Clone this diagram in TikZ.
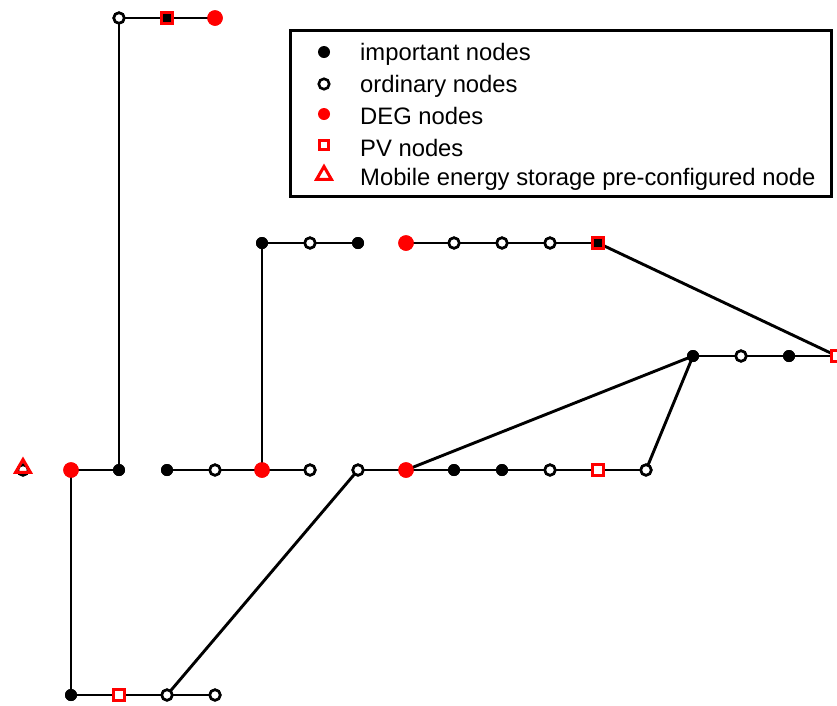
\documentclass[tikz,border=0pt]{standalone}
\usepackage{fontspec}
\setmainfont{Liberation Sans}
\usetikzlibrary{shapes.geometric}
\begin{document}
\begin{tikzpicture}[x=1pt,y=-1pt,
  imp/.style={circle,fill=black,inner sep=0pt,minimum size=12pt},
  ord/.style={circle,draw=black,fill=white,line width=2.6pt,inner sep=0pt,minimum size=10.5pt},
  deg/.style={circle,fill=red,inner sep=0pt,minimum size=15.5pt},
  pvimp/.style={rectangle,draw=red,fill=black,line width=3pt,inner sep=0pt,minimum size=11pt},
  pvord/.style={rectangle,draw=red,fill=white,line width=3pt,inner sep=0pt,minimum size=11pt},
  mes/.style={regular polygon,regular polygon sides=3,draw=red,line width=3pt,inner sep=0pt,minimum size=17pt},
  br/.style={line width=2.9pt,black},
  lg/.style={anchor=west,font=\fontsize{23.8}{27}\selectfont,inner sep=0pt}
]
\useasboundingbox (0,0) rectangle (837,705);
% top row
\node[ord] (t1) at (119,18) {};
\node[pvimp] (t2) at (167,18) {};
\node[deg] (t3) at (215,18) {};
% row 243
\node[imp] (a1) at (262,243) {};
\node[ord] (a2) at (310,243) {};
\node[imp] (a3) at (358,243) {};
\node[deg] (b1) at (406,243) {};
\node[ord] (b2) at (454,243) {};
\node[ord] (b3) at (502,243) {};
\node[ord] (b4) at (550,243) {};
\node[pvimp] (b5) at (598,243) {};
% row 356
\node[imp] (c1) at (693,356) {};
\node[ord] (c2) at (741,356) {};
\node[imp] (c3) at (789,356) {};
\node[ord] (c4o) at (837,356) {};
\node[pvord] (c4) at (837,356) {};
% row 470
\node[ord] (m0o) at (23,470) {};
\node[deg] (m1) at (71,470) {};
\node[imp] (m2) at (119,470) {};
\node[imp] (m3) at (167,470) {};
\node[ord] (m4) at (215,470) {};
\node[deg] (m5) at (262,470) {};
\node[ord] (m6) at (310,470) {};
\node[ord] (m7) at (358,470) {};
\node[deg] (m8) at (406,470) {};
\node[imp] (m9) at (454,470) {};
\node[imp] (m10) at (502,470) {};
\node[ord] (m11) at (550,470) {};
\node[ord] (m12o) at (598,470) {};
\node[pvord] (m12) at (598,470) {};
\node[ord] (m13) at (646,470) {};
% bottom row
\node[imp] (d1) at (71,695) {};
\node[ord] (d2o) at (119,695) {};
\node[pvord] (d2) at (119,695) {};
\node[ord] (d3) at (167,695) {};
\node[ord] (d4) at (215,695) {};
% branches
\path[br,draw] (t1.center) -- (t3.center);
\path[br,draw] (t1.center) -- (m2.center);
\path[br,draw] (a1.center) -- (a3.center);
\path[br,draw] (a1.center) -- (m5.center);
\path[br,draw] (b1.center) -- (b5.center);
\path[br,draw] (b5.center) -- (c4.center);
\path[br,draw] (c1.center) -- (c4.center);
\path[br,draw] (m8.center) -- (c1.center);
\path[br,draw] (m13.center) -- (c1.center);
\path[br,draw] (m1.center) -- (m2.center);
\path[br,draw] (m3.center) -- (m6.center);
\path[br,draw] (m7.center) -- (m13.center);
\path[br,draw] (m7.center) -- (d3.center);
\path[br,draw] (m1.center) -- (d1.center);
\path[br,draw] (d1.center) -- (d4.center);
% redraw markers on top
\node[ord] at (t1) {};
\node[pvimp] at (t2) {};
\node[deg] at (t3) {};
\node[imp] at (a1) {};
\node[ord] at (a2) {};
\node[imp] at (a3) {};
\node[deg] at (b1) {};
\node[ord] at (b2) {};
\node[ord] at (b3) {};
\node[ord] at (b4) {};
\node[pvimp] at (b5) {};
\node[imp] at (c1) {};
\node[ord] at (c2) {};
\node[imp] at (c3) {};
\node[pvord] at (c4) {};
\node[ord] at (m0o) {};
\node[mes] (m0) at (23,468) {};
\node[deg] at (m1) {};
\node[imp] at (m2) {};
\node[imp] at (m3) {};
\node[ord] at (m4) {};
\node[deg] at (m5) {};
\node[ord] at (m6) {};
\node[ord] at (m7) {};
\node[deg] at (m8) {};
\node[imp] at (m9) {};
\node[imp] at (m10) {};
\node[ord] at (m11) {};
\node[pvord] at (m12) {};
\node[ord] at (m13) {};
\node[imp] at (d1) {};
\node[pvord] at (d2) {};
\node[ord] at (d3) {};
\node[ord] at (d4) {};
% legend
\node[draw=black,line width=2.8pt,minimum width=541pt,minimum height=166pt,anchor=north west,inner sep=0pt] (leg) at (289,29) {};
\node[imp,minimum size=12pt] (l1) at (324,52) {};
\node[ord,minimum size=10.5pt] (l2) at (324,84) {};
\node[deg,minimum size=12pt] (l3) at (324,114) {};
\node[pvord,minimum size=9pt,line width=2.8pt] (l4) at (324,145) {};
\node[mes,minimum size=17pt] (l5) at (324,175) {};
\node[lg] (t1l) at (360,54) {important nodes};
\node[lg] (t2l) at (360,86) {ordinary nodes};
\node[lg] (t3l) at (360,116) {DEG nodes};
\node[lg] (t4l) at (360,148) {PV nodes};
\node[lg] (t5l) at (360,179) {Mobile energy storage pre-configured node};
\end{tikzpicture}
\end{document}
